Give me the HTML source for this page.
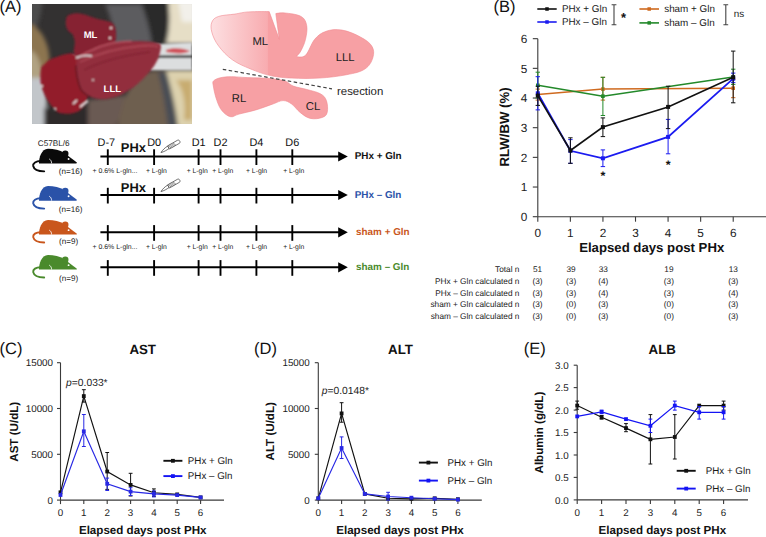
<!DOCTYPE html>
<html><head><meta charset="utf-8"><style>
html,body{margin:0;padding:0;background:#fff;width:766px;height:537px;overflow:hidden}
svg{display:block}
text{font-family:"Liberation Sans",sans-serif;text-rendering:geometricPrecision}
</style></head><body>
<svg width="766" height="537" viewBox="0 0 766 537">
<rect width="766" height="537" fill="#fff"/>
<text x="-0.6" y="11.9" font-size="16.5" text-anchor="start" fill="#111" >(A)</text>
<defs><filter id="bl" x="-10%" y="-10%" width="120%" height="120%"><feGaussianBlur stdDeviation="2.2"/></filter><filter id="bl2"><feGaussianBlur stdDeviation="0.8"/></filter><clipPath id="ph"><rect x="32" y="4" width="160" height="120"/></clipPath><linearGradient id="mlg" gradientUnits="userSpaceOnUse" x1="210" x2="374" y1="0" y2="0"><stop offset="0" stop-color="#fde0e2"/><stop offset="0.35" stop-color="#f8acb0"/><stop offset="0.355" stop-color="#f7a0a4"/><stop offset="1" stop-color="#f7a0a4"/></linearGradient></defs>
<g clip-path="url(#ph)">
<rect x="32" y="4" width="160" height="120" fill="#333131"/>
<g filter="url(#bl)">
<path d="M105 4 L150 4 L156 20 L158 44 L112 46 C115 30 110 15 105 4 Z" fill="#5c5c5e"/>
<path d="M140 0 L168 0 C170 15 172 30 168 44 L152 44 C150 30 146 15 140 0 Z" fill="#2c2c2c"/>
<path d="M168 0 L196 0 L196 44 L166 44 C170 30 170 15 168 0 Z" fill="#e6dec6"/>
<path d="M178 0 L196 0 L196 22 L182 22 Z" fill="#f2f0ea"/>
<path d="M28 0 L42 0 C42 10 40 20 36 28 L28 28 Z" fill="#4c4c4c"/>
<path d="M28 24 C36 24 44 34 48 48 C51 62 50 74 46 80 L28 80 Z" fill="#8c7450"/>
<path d="M28 50 C36 50 42 62 42 80 L28 80 Z" fill="#b0a282"/>
<path d="M28 78 L46 78 C47 92 47 110 46 128 L28 128 Z" fill="#c2c6ca"/>
<path d="M44 108 L100 106 L100 128 L44 128 Z" fill="#2e2c2c"/>
<path d="M118 128 C118 105 128 90 140 72 L166 70 C170 90 176 110 178 128 Z" fill="#6e5e50"/>
<path d="M158 72 L168 72 C172 95 176 112 178 128 L168 128 C166 110 163 92 158 72 Z" fill="#4a4e54"/>
<path d="M166 70 L196 70 L196 128 L178 128 C176 110 172 92 166 70 Z" fill="#ddd2ae"/>
<path d="M176 80 C184 90 186 105 184 120 L192 120 L192 80 Z" fill="#c8ac70"/>
<path d="M88 100 L125 95 C122 110 118 120 116 128 L88 128 Z" fill="#6a5a52"/>
</g>
<g filter="url(#bl2)">
<path d="M72 55 L90 54 L90 61 L72 61 Z" fill="#d0d2d4"/>
<path d="M150 44.5 L192 42.4 L192 70.2 L150 70.2 Z" fill="#dcdedf"/>
<path d="M152 55.5 L192 55.3 L192 58 L152 58 Z" fill="#333"/>
<path d="M166 50 C172 47 184 48 190 51 C186 54 176 54 166 52 Z" fill="#d05058"/>
</g>
<g filter="url(#bl2)">
<path d="M40.9 70.2 C41.5 66 42.5 65.5 44.5 64.2 C48 60 52 58 56.6 56.9 C62 55 66 53.5 71.2 53.3 C74 54 76 55.5 78.4 58.1 C82 64 84.5 68 85.7 72.7 C87.5 80 88.5 86 88.1 92 C87.8 97 87 101 85.7 104.1 C83 108 81 110 78.4 111.4 C74 113 70 114 66.3 113.8 C62 113.5 59 113 56.6 111.4 C52 107 49 103 47 99.3 C44 94 42 89 40.9 84.8 C40.3 80 40.3 75 40.9 70.2 Z" fill="#921c2a"/>
<path d="M66.3 18.2 C67 16 68 15 70 14.5 C73 13.5 76 13.2 78.4 13.3 C82 13.8 85 14.5 88.1 15.7 C92 17 96 18.5 100.2 19.4 C104 20.2 107 20.8 110 21.8 C112.5 23 114 24.5 114.8 26.6 C116 30 116.2 33 116 36.3 C116 38 116 40 115 42 L110 43.6 L93 49.6 L78.4 56.9 C76 56 75 55 73.6 52 C74 48 75 44 74.8 41.2 C74 38 73.5 36 72.4 33.9 C70 32.5 69.5 32 68.8 31.5 C67 29 66 27 65.8 24.2 C65.6 22 65.8 20 66.3 18.2 Z" fill="#862030"/>
<path d="M78.4 56.9 C83 54 88 51.5 93 49.6 C98 47 104 45 110 43.6 C117 42 124 41.5 131.7 41.2 C138 41 145 41.2 151.1 41.7 C154 42 157 42.5 159.6 43.6 C161 45 161.2 46.5 160.8 48.4 C160 53 159 57 157.2 60.5 C155 65 152 69 148.7 72.7 C145 77 141 81 136.6 84.8 C132 88.5 127 91.5 122 94.5 C116 97 110 98.5 105.1 99.3 C100 99.5 95 98.5 90.5 96.9 C86 95 83 92.5 80.9 89.6 C79 85.5 78 81.5 77.2 77.5 C76.5 73 76 69 76 65.4 C76 62 77 59 78.4 56.9 Z" fill="#922e3c"/>
<path d="M78.4 56.9 C83 54 88 51.5 93 49.6 C98 47 104 45 110 43.6 C117 42 124 41.5 131.7 41.2" stroke="#c05868" stroke-width="1.2" fill="none"/>
<path d="M76 65.4 C76 69 76.5 73 77.2 77.5 C78 81.5 79 85.5 80.9 89.6 C83 92.5 86 95 90.5 96.9" stroke="#5e1420" stroke-width="1.4" fill="none"/>
<path d="M80 62 C95 55 115 48 140 46 C150 45 156 46 158 47" stroke="#b04a58" stroke-width="1.3" fill="none"/>
<path d="M84 70 C100 62 120 56 150 52" stroke="#7a1c2a" stroke-width="1" fill="none"/>
<path d="M76 58 C80 56 86 55 92 56" stroke="#e8e8e8" stroke-width="1.4" fill="none"/>
<path d="M73 104 L77 100 M80 107 L88 101" stroke="#f0f0f0" stroke-width="1.6" fill="none"/>
<circle cx="111" cy="28" r="1.2" fill="#f0e0e0"/><circle cx="110" cy="38" r="1.2" fill="#f0e0e0"/><circle cx="42" cy="86" r="1" fill="#f0f0f0"/><circle cx="55" cy="109" r="1" fill="#f0f0f0"/><circle cx="93" cy="80" r="0.9" fill="#f0f0f0"/>
</g>
</g>
<text x="90.5" y="37.5" font-size="9.5" text-anchor="middle" fill="#ffffff" font-weight="bold" >ML</text>
<text x="112.3" y="92" font-size="9.5" text-anchor="middle" fill="#ffffff" font-weight="bold" >LLL</text>
<path d="M211.9 22.1 C213.1 19.2 214.6 17.8 218.7 16.4 C222.8 15.0 229.4 14.9 234.7 14.1 C240.0 13.3 242.2 12.3 248.4 11.9 C254.6 11.5 269.2 11.6 269.2 11.6 L279.3 39.3 L275.8 13.6 C275.8 13.6 280.5 12.5 285.0 13.0 C289.5 13.5 297.1 14.1 301.0 16.4 C304.9 18.7 305.9 21.5 306.7 25.6 C307.5 29.7 306.5 34.8 305.5 39.3 C304.5 43.8 302.6 47.6 301.0 50.7 C299.4 53.8 296.4 56.4 296.4 56.4 C296.4 56.4 302.2 58.4 305.5 55.3 C308.8 52.2 311.0 43.6 314.7 39.3 C318.4 35.0 321.2 33.0 326.1 31.3 C331.0 29.6 335.9 29.1 342.1 30.1 C348.3 31.1 355.1 34.1 360.4 37.0 C365.7 39.9 369.6 42.4 371.8 46.1 C374.1 49.8 374.1 53.4 372.9 57.5 C371.7 61.6 369.6 65.9 364.9 69.0 C360.2 72.1 354.9 73.1 346.7 74.7 C338.5 76.3 329.1 77.5 319.2 78.1 C309.3 78.7 300.4 78.5 291.8 78.1 C283.2 77.7 278.7 77.4 271.3 75.8 C263.9 74.2 257.7 71.9 250.7 69.0 C243.7 66.1 238.2 63.9 232.4 59.8 C226.6 55.7 222.4 51.0 218.7 46.1 C215.0 41.2 213.1 36.7 211.9 32.4 C210.7 28.1 210.7 25.0 211.9 22.1 Z" fill="url(#mlg)" stroke="#f08a90" stroke-width="0.6" stroke-linejoin="round"/>
<path d="M214.3 80.2 C216.7 78.4 221.0 77.3 227.0 76.8 C233.0 76.3 239.8 77.3 247.4 77.6 C255.1 77.9 262.8 77.9 269.5 78.5 C276.2 79.1 280.5 79.6 284.8 81.0 C289.1 82.4 289.3 84.6 293.3 86.1 C297.3 87.6 302.0 88.1 306.9 89.5 C311.8 90.9 316.9 91.8 320.4 93.8 C323.9 95.8 325.2 97.3 326.4 100.6 C327.6 103.9 328.0 109.4 327.2 112.4 C326.4 115.4 325.1 116.4 322.1 117.5 C319.1 118.6 314.3 119.3 310.3 118.4 C306.3 117.5 303.5 115.0 300.1 112.4 C296.7 109.8 294.7 106.1 291.6 104.0 C288.5 101.9 286.5 100.6 283.1 100.6 C279.7 100.6 277.8 102.3 272.9 104.0 C268.0 105.7 262.0 108.1 255.9 109.9 C249.8 111.7 243.6 112.9 239.0 114.1 C234.4 115.3 233.6 117.3 230.5 116.7 C227.4 116.1 224.4 113.6 222.0 110.7 C219.6 107.8 218.4 104.9 216.9 100.6 C215.4 96.3 214.0 90.7 213.5 87.0 C213.0 83.3 211.9 82.0 214.3 80.2 Z" fill="#f7a0a4" stroke="#f08a90" stroke-width="0.6" stroke-linejoin="round"/>
<line x1="222.8" y1="69.3" x2="332" y2="88.8" stroke="#444" stroke-width="1.2" stroke-dasharray="3.5 2.5"/>
<text x="260.3" y="44.8" font-size="11.3" text-anchor="middle" fill="#222" >ML</text>
<text x="345.1" y="61.2" font-size="11.3" text-anchor="middle" fill="#222" >LLL</text>
<text x="239.1" y="102" font-size="11.3" text-anchor="middle" fill="#222" >RL</text>
<text x="313.1" y="110.2" font-size="11.3" text-anchor="middle" fill="#222" >CL</text>
<text x="337" y="95.4" font-size="11.4" text-anchor="start" fill="#222" >resection</text>
<text x="53.7" y="146" font-size="8.2" text-anchor="middle" fill="#222" >C57BL/6</text>
<g transform="translate(39,148.75)" fill="#0a0a0a"><path d="M0 14.65 C-0.2 9 2.5 0 9 0 C15 0 21 1.5 25 4 L37.6 13.6 C38.2 14.1 38 14.65 37 14.65 Z"/><circle cx="26.3" cy="4.9" r="3.2"/><path d="M1.5 12.3 C-3 12.3 -6.3 14.5 -5.8 17.2 C-5 20.8 0 22.6 5.2 22.6" fill="none" stroke="#0a0a0a" stroke-width="1.9" stroke-linecap="round"/><circle cx="29.6" cy="10.25" r="0.95" fill="#fff"/><path d="M10.2 10.2 C11.8 11 12.6 12.6 12.6 14.65" fill="none" stroke="#fff" stroke-width="0.8"/></g>
<text x="82.4" y="173.6" font-size="8.1" text-anchor="end" fill="#222" >(n=16)</text>
<line x1="100.4" y1="156.5" x2="340" y2="156.5" stroke="#000" stroke-width="1.9"/>
<path d="M338.2 151.4 L347.8 156.5 L338.2 161.6 Z" fill="#000"/>
<line x1="107.8" y1="149.3" x2="107.8" y2="165.0" stroke="#000" stroke-width="1.9"/>
<line x1="154.1" y1="149.3" x2="154.1" y2="165.0" stroke="#000" stroke-width="1.9"/>
<line x1="198.6" y1="149.3" x2="198.6" y2="165.0" stroke="#000" stroke-width="1.9"/>
<line x1="220.5" y1="149.3" x2="220.5" y2="165.0" stroke="#000" stroke-width="1.9"/>
<line x1="256.4" y1="149.3" x2="256.4" y2="165.0" stroke="#000" stroke-width="1.9"/>
<line x1="292.3" y1="149.3" x2="292.3" y2="165.0" stroke="#000" stroke-width="1.9"/>
<text x="354.7" y="159.3" font-size="9.9" text-anchor="start" fill="#111" font-weight="bold" >PHx + Gln</text>
<g transform="translate(39,186.0)" fill="#2a52a8"><path d="M0 14.65 C-0.2 9 2.5 0 9 0 C15 0 21 1.5 25 4 L37.6 13.6 C38.2 14.1 38 14.65 37 14.65 Z"/><circle cx="26.3" cy="4.9" r="3.2"/><path d="M1.5 12.3 C-3 12.3 -6.3 14.5 -5.8 17.2 C-5 20.8 0 22.6 5.2 22.6" fill="none" stroke="#2a52a8" stroke-width="1.9" stroke-linecap="round"/><circle cx="29.6" cy="10.25" r="0.95" fill="#fff"/><path d="M10.2 10.2 C11.8 11 12.6 12.6 12.6 14.65" fill="none" stroke="#fff" stroke-width="0.8"/></g>
<text x="82.4" y="211.9" font-size="8.1" text-anchor="end" fill="#222" >(n=16)</text>
<line x1="100.4" y1="195.0" x2="340" y2="195.0" stroke="#000" stroke-width="1.9"/>
<path d="M338.2 189.9 L347.8 195.0 L338.2 200.1 Z" fill="#000"/>
<line x1="107.8" y1="187.8" x2="107.8" y2="203.5" stroke="#000" stroke-width="1.9"/>
<line x1="154.1" y1="187.8" x2="154.1" y2="203.5" stroke="#000" stroke-width="1.9"/>
<line x1="198.6" y1="187.8" x2="198.6" y2="203.5" stroke="#000" stroke-width="1.9"/>
<line x1="220.5" y1="187.8" x2="220.5" y2="203.5" stroke="#000" stroke-width="1.9"/>
<line x1="256.4" y1="187.8" x2="256.4" y2="203.5" stroke="#000" stroke-width="1.9"/>
<line x1="292.3" y1="187.8" x2="292.3" y2="203.5" stroke="#000" stroke-width="1.9"/>
<text x="354.7" y="197.8" font-size="9.9" text-anchor="start" fill="#2a52a8" font-weight="bold" >PHx – Gln</text>
<g transform="translate(39,219.9)" fill="#c9561c"><path d="M0 14.65 C-0.2 9 2.5 0 9 0 C15 0 21 1.5 25 4 L37.6 13.6 C38.2 14.1 38 14.65 37 14.65 Z"/><circle cx="26.3" cy="4.9" r="3.2"/><path d="M1.5 12.3 C-3 12.3 -6.3 14.5 -5.8 17.2 C-5 20.8 0 22.6 5.2 22.6" fill="none" stroke="#c9561c" stroke-width="1.9" stroke-linecap="round"/><circle cx="29.6" cy="10.25" r="0.95" fill="#fff"/><path d="M10.2 10.2 C11.8 11 12.6 12.6 12.6 14.65" fill="none" stroke="#fff" stroke-width="0.8"/></g>
<text x="78.1" y="244.4" font-size="8.1" text-anchor="end" fill="#222" >(n=9)</text>
<line x1="100.4" y1="232.3" x2="340" y2="232.3" stroke="#000" stroke-width="1.9"/>
<path d="M338.2 227.20000000000002 L347.8 232.3 L338.2 237.4 Z" fill="#000"/>
<line x1="107.8" y1="225.10000000000002" x2="107.8" y2="240.8" stroke="#000" stroke-width="1.9"/>
<line x1="154.1" y1="225.10000000000002" x2="154.1" y2="240.8" stroke="#000" stroke-width="1.9"/>
<line x1="198.6" y1="225.10000000000002" x2="198.6" y2="240.8" stroke="#000" stroke-width="1.9"/>
<line x1="220.5" y1="225.10000000000002" x2="220.5" y2="240.8" stroke="#000" stroke-width="1.9"/>
<line x1="256.4" y1="225.10000000000002" x2="256.4" y2="240.8" stroke="#000" stroke-width="1.9"/>
<line x1="292.3" y1="225.10000000000002" x2="292.3" y2="240.8" stroke="#000" stroke-width="1.9"/>
<text x="356.09999999999997" y="235.10000000000002" font-size="9.9" text-anchor="start" fill="#c9561c" font-weight="bold" >sham + Gln</text>
<g transform="translate(39,254.9)" fill="#4a8a2c"><path d="M0 14.65 C-0.2 9 2.5 0 9 0 C15 0 21 1.5 25 4 L37.6 13.6 C38.2 14.1 38 14.65 37 14.65 Z"/><circle cx="26.3" cy="4.9" r="3.2"/><path d="M1.5 12.3 C-3 12.3 -6.3 14.5 -5.8 17.2 C-5 20.8 0 22.6 5.2 22.6" fill="none" stroke="#4a8a2c" stroke-width="1.9" stroke-linecap="round"/><circle cx="29.6" cy="10.25" r="0.95" fill="#fff"/><path d="M10.2 10.2 C11.8 11 12.6 12.6 12.6 14.65" fill="none" stroke="#fff" stroke-width="0.8"/></g>
<text x="78.1" y="280.9" font-size="8.1" text-anchor="end" fill="#222" >(n=9)</text>
<line x1="100.4" y1="267.3" x2="340" y2="267.3" stroke="#000" stroke-width="1.9"/>
<path d="M338.2 262.2 L347.8 267.3 L338.2 272.40000000000003 Z" fill="#000"/>
<line x1="107.8" y1="260.1" x2="107.8" y2="275.8" stroke="#000" stroke-width="1.9"/>
<line x1="154.1" y1="260.1" x2="154.1" y2="275.8" stroke="#000" stroke-width="1.9"/>
<line x1="198.6" y1="260.1" x2="198.6" y2="275.8" stroke="#000" stroke-width="1.9"/>
<line x1="220.5" y1="260.1" x2="220.5" y2="275.8" stroke="#000" stroke-width="1.9"/>
<line x1="256.4" y1="260.1" x2="256.4" y2="275.8" stroke="#000" stroke-width="1.9"/>
<line x1="292.3" y1="260.1" x2="292.3" y2="275.8" stroke="#000" stroke-width="1.9"/>
<text x="356.09999999999997" y="270.1" font-size="9.9" text-anchor="start" fill="#4a8a2c" font-weight="bold" >sham – Gln</text>
<text x="106.3" y="145.9" font-size="10.9" text-anchor="middle" fill="#111" >D-7</text>
<text x="154.1" y="145.9" font-size="10.9" text-anchor="middle" fill="#111" >D0</text>
<text x="198.6" y="145.9" font-size="10.9" text-anchor="middle" fill="#111" >D1</text>
<text x="220.5" y="145.9" font-size="10.9" text-anchor="middle" fill="#111" >D2</text>
<text x="256.4" y="145.9" font-size="10.9" text-anchor="middle" fill="#111" >D4</text>
<text x="292.3" y="145.9" font-size="10.9" text-anchor="middle" fill="#111" >D6</text>
<text x="133.4" y="152.2" font-size="12.9" text-anchor="middle" fill="#111" font-weight="bold" >PHx</text>
<text x="133.4" y="191.7" font-size="12.9" text-anchor="middle" fill="#111" font-weight="bold" >PHx</text>
<g transform="translate(160.8,152.2) rotate(-29.7)" fill="#fff" stroke="#3a3a3a" stroke-width="0.65" stroke-linejoin="round"><path d="M0 0.4 C2.5 -1.0 6 -1.9 9 -1.9 L9.2 0.9 C6 1.2 3 1.2 0 0.4 Z"/><path d="M9 -2.1 L20.5 -2.1 C22.3 -2.1 22.6 1.5 20.5 1.5 L9 1.5 Z"/><path d="M9.6 -2 L11 1.4 M11 -2 L12.4 1.4 M12.4 -2 L13.8 1.4 M13.8 -2 L15.2 1.4 M15.2 -2 L16.6 1.4" stroke-width="0.5"/></g>
<g transform="translate(160.8,191.2) rotate(-29.7)" fill="#fff" stroke="#3a3a3a" stroke-width="0.65" stroke-linejoin="round"><path d="M0 0.4 C2.5 -1.0 6 -1.9 9 -1.9 L9.2 0.9 C6 1.2 3 1.2 0 0.4 Z"/><path d="M9 -2.1 L20.5 -2.1 C22.3 -2.1 22.6 1.5 20.5 1.5 L9 1.5 Z"/><path d="M9.6 -2 L11 1.4 M11 -2 L12.4 1.4 M12.4 -2 L13.8 1.4 M13.8 -2 L15.2 1.4 M15.2 -2 L16.6 1.4" stroke-width="0.5"/></g>
<text x="92.5" y="173.0" font-size="6.95" text-anchor="start" fill="#222" >+ 0.6% L-gln...</text>
<text x="156.4" y="173.0" font-size="6.8" text-anchor="middle" fill="#222" >+ L-gln</text>
<text x="197.2" y="173.0" font-size="6.8" text-anchor="middle" fill="#222" >+ L-gln</text>
<text x="222.7" y="173.0" font-size="6.8" text-anchor="middle" fill="#222" >+ L-gln</text>
<text x="256.5" y="173.0" font-size="6.8" text-anchor="middle" fill="#222" >+ L-gln</text>
<text x="293.7" y="173.0" font-size="6.8" text-anchor="middle" fill="#222" >+ L-gln</text>
<text x="92.5" y="248.8" font-size="6.95" text-anchor="start" fill="#222" >+ 0.6% L-gln...</text>
<text x="156.4" y="248.8" font-size="6.8" text-anchor="middle" fill="#222" >+ L-gln</text>
<text x="197.2" y="248.8" font-size="6.8" text-anchor="middle" fill="#222" >+ L-gln</text>
<text x="222.7" y="248.8" font-size="6.8" text-anchor="middle" fill="#222" >+ L-gln</text>
<text x="256.5" y="248.8" font-size="6.8" text-anchor="middle" fill="#222" >+ L-gln</text>
<text x="293.7" y="248.8" font-size="6.8" text-anchor="middle" fill="#222" >+ L-gln</text>
<text x="493.4" y="12" font-size="16.5" text-anchor="start" fill="#111" >(B)</text>
<line x1="537.8" y1="38.67999999999998" x2="537.8" y2="216.7" stroke="#3a3a3a" stroke-width="1.1"/>
<line x1="537.8" y1="216.7" x2="766" y2="216.7" stroke="#3a3a3a" stroke-width="1.1"/>
<line x1="532.8" y1="216.7" x2="537.8" y2="216.7" stroke="#3a3a3a" stroke-width="1.1"/>
<text x="527.3" y="220.89999999999998" font-size="11.8" text-anchor="end" fill="#222" >0</text>
<line x1="532.8" y1="187.02999999999997" x2="537.8" y2="187.02999999999997" stroke="#3a3a3a" stroke-width="1.1"/>
<text x="527.3" y="191.22999999999996" font-size="11.8" text-anchor="end" fill="#222" >1</text>
<line x1="532.8" y1="157.35999999999999" x2="537.8" y2="157.35999999999999" stroke="#3a3a3a" stroke-width="1.1"/>
<text x="527.3" y="161.55999999999997" font-size="11.8" text-anchor="end" fill="#222" >2</text>
<line x1="532.8" y1="127.68999999999998" x2="537.8" y2="127.68999999999998" stroke="#3a3a3a" stroke-width="1.1"/>
<text x="527.3" y="131.89" font-size="11.8" text-anchor="end" fill="#222" >3</text>
<line x1="532.8" y1="98.01999999999998" x2="537.8" y2="98.01999999999998" stroke="#3a3a3a" stroke-width="1.1"/>
<text x="527.3" y="102.21999999999998" font-size="11.8" text-anchor="end" fill="#222" >4</text>
<line x1="532.8" y1="68.34999999999997" x2="537.8" y2="68.34999999999997" stroke="#3a3a3a" stroke-width="1.1"/>
<text x="527.3" y="72.54999999999997" font-size="11.8" text-anchor="end" fill="#222" >5</text>
<line x1="532.8" y1="38.67999999999998" x2="537.8" y2="38.67999999999998" stroke="#3a3a3a" stroke-width="1.1"/>
<text x="527.3" y="42.87999999999998" font-size="11.8" text-anchor="end" fill="#222" >6</text>
<line x1="537.8" y1="216.7" x2="537.8" y2="221.7" stroke="#3a3a3a" stroke-width="1.1"/>
<text x="537.8" y="236.79999999999998" font-size="11.8" text-anchor="middle" fill="#222" >0</text>
<line x1="570.37" y1="216.7" x2="570.37" y2="221.7" stroke="#3a3a3a" stroke-width="1.1"/>
<text x="570.37" y="236.79999999999998" font-size="11.8" text-anchor="middle" fill="#222" >1</text>
<line x1="602.9399999999999" y1="216.7" x2="602.9399999999999" y2="221.7" stroke="#3a3a3a" stroke-width="1.1"/>
<text x="602.9399999999999" y="236.79999999999998" font-size="11.8" text-anchor="middle" fill="#222" >2</text>
<line x1="635.51" y1="216.7" x2="635.51" y2="221.7" stroke="#3a3a3a" stroke-width="1.1"/>
<text x="635.51" y="236.79999999999998" font-size="11.8" text-anchor="middle" fill="#222" >3</text>
<line x1="668.0799999999999" y1="216.7" x2="668.0799999999999" y2="221.7" stroke="#3a3a3a" stroke-width="1.1"/>
<text x="668.0799999999999" y="236.79999999999998" font-size="11.8" text-anchor="middle" fill="#222" >4</text>
<line x1="700.65" y1="216.7" x2="700.65" y2="221.7" stroke="#3a3a3a" stroke-width="1.1"/>
<text x="700.65" y="236.79999999999998" font-size="11.8" text-anchor="middle" fill="#222" >5</text>
<line x1="733.22" y1="216.7" x2="733.22" y2="221.7" stroke="#3a3a3a" stroke-width="1.1"/>
<text x="733.22" y="236.79999999999998" font-size="11.8" text-anchor="middle" fill="#222" >6</text>
<text x="651.7" y="252.4" font-size="13.2" text-anchor="middle" fill="#111" font-weight="bold" >Elapsed days post PHx</text>
<text transform="translate(508.5,127) rotate(-90)" font-size="13.2" font-weight="bold" text-anchor="middle" fill="#111">RLW/BW (%)</text>
<path d="M537.8 94.5 L602.9 89.1 L733.2 88.2" fill="none" stroke="#cf6a1f" stroke-width="1.5" stroke-linejoin="miter"/>
<line x1="537.8" y1="100.1" x2="537.8" y2="89.1" stroke="#cf6a1f" stroke-width="1.0"/>
<line x1="535.6" y1="100.1" x2="540.0" y2="100.1" stroke="#cf6a1f" stroke-width="1.0"/>
<line x1="535.6" y1="89.1" x2="540.0" y2="89.1" stroke="#cf6a1f" stroke-width="1.0"/>
<rect x="536.0" y="92.7" width="3.6" height="3.6" fill="#cf6a1f"/>
<line x1="602.9" y1="100.1" x2="602.9" y2="77.3" stroke="#cf6a1f" stroke-width="1.0"/>
<line x1="600.7" y1="100.1" x2="605.1" y2="100.1" stroke="#cf6a1f" stroke-width="1.0"/>
<line x1="600.7" y1="77.3" x2="605.1" y2="77.3" stroke="#cf6a1f" stroke-width="1.0"/>
<rect x="601.1" y="87.3" width="3.6" height="3.6" fill="#cf6a1f"/>
<line x1="733.2" y1="97.7" x2="733.2" y2="79.3" stroke="#cf6a1f" stroke-width="1.0"/>
<line x1="731.0" y1="97.7" x2="735.4" y2="97.7" stroke="#cf6a1f" stroke-width="1.0"/>
<line x1="731.0" y1="79.3" x2="735.4" y2="79.3" stroke="#cf6a1f" stroke-width="1.0"/>
<rect x="731.4" y="86.4" width="3.6" height="3.6" fill="#cf6a1f"/>
<path d="M537.8 85.3 L602.9 96.2 L733.2 77.0" fill="none" stroke="#23892a" stroke-width="1.5" stroke-linejoin="miter"/>
<line x1="537.8" y1="98.0" x2="537.8" y2="72.2" stroke="#23892a" stroke-width="1.0"/>
<line x1="535.6" y1="98.0" x2="540.0" y2="98.0" stroke="#23892a" stroke-width="1.0"/>
<line x1="535.6" y1="72.2" x2="540.0" y2="72.2" stroke="#23892a" stroke-width="1.0"/>
<rect x="536.0" y="83.5" width="3.6" height="3.6" fill="#23892a"/>
<line x1="602.9" y1="115.5" x2="602.9" y2="77.3" stroke="#23892a" stroke-width="1.0"/>
<line x1="600.7" y1="115.5" x2="605.1" y2="115.5" stroke="#23892a" stroke-width="1.0"/>
<line x1="600.7" y1="77.3" x2="605.1" y2="77.3" stroke="#23892a" stroke-width="1.0"/>
<rect x="601.1" y="94.4" width="3.6" height="3.6" fill="#23892a"/>
<line x1="733.2" y1="84.4" x2="733.2" y2="69.2" stroke="#23892a" stroke-width="1.0"/>
<line x1="731.0" y1="84.4" x2="735.4" y2="84.4" stroke="#23892a" stroke-width="1.0"/>
<line x1="731.0" y1="69.2" x2="735.4" y2="69.2" stroke="#23892a" stroke-width="1.0"/>
<rect x="731.4" y="75.2" width="3.6" height="3.6" fill="#23892a"/>
<path d="M537.8 93.3 L570.4 150.8 L602.9 158.3 L668.1 136.9 L733.2 78.7" fill="none" stroke="#1b1bf0" stroke-width="1.8" stroke-linejoin="miter"/>
<line x1="537.8" y1="109.9" x2="537.8" y2="76.7" stroke="#1b1bf0" stroke-width="1.0"/>
<line x1="535.6" y1="109.9" x2="540.0" y2="109.9" stroke="#1b1bf0" stroke-width="1.0"/>
<line x1="535.6" y1="76.7" x2="540.0" y2="76.7" stroke="#1b1bf0" stroke-width="1.0"/>
<rect x="535.8" y="91.3" width="4" height="4" fill="#1b1bf0"/>
<line x1="570.4" y1="163.3" x2="570.4" y2="139.6" stroke="#1b1bf0" stroke-width="1.0"/>
<line x1="568.2" y1="163.3" x2="572.6" y2="163.3" stroke="#1b1bf0" stroke-width="1.0"/>
<line x1="568.2" y1="139.6" x2="572.6" y2="139.6" stroke="#1b1bf0" stroke-width="1.0"/>
<rect x="568.4" y="148.8" width="4" height="4" fill="#1b1bf0"/>
<line x1="602.9" y1="166.6" x2="602.9" y2="149.9" stroke="#1b1bf0" stroke-width="1.0"/>
<line x1="600.7" y1="166.6" x2="605.1" y2="166.6" stroke="#1b1bf0" stroke-width="1.0"/>
<line x1="600.7" y1="149.9" x2="605.1" y2="149.9" stroke="#1b1bf0" stroke-width="1.0"/>
<rect x="600.9" y="156.3" width="4" height="4" fill="#1b1bf0"/>
<line x1="668.1" y1="153.8" x2="668.1" y2="119.4" stroke="#1b1bf0" stroke-width="1.0"/>
<line x1="665.9" y1="153.8" x2="670.3" y2="153.8" stroke="#1b1bf0" stroke-width="1.0"/>
<line x1="665.9" y1="119.4" x2="670.3" y2="119.4" stroke="#1b1bf0" stroke-width="1.0"/>
<rect x="666.1" y="134.9" width="4" height="4" fill="#1b1bf0"/>
<line x1="733.2" y1="82.6" x2="733.2" y2="73.1" stroke="#1b1bf0" stroke-width="1.0"/>
<line x1="731.0" y1="82.6" x2="735.4" y2="82.6" stroke="#1b1bf0" stroke-width="1.0"/>
<line x1="731.0" y1="73.1" x2="735.4" y2="73.1" stroke="#1b1bf0" stroke-width="1.0"/>
<rect x="731.2" y="76.7" width="4" height="4" fill="#1b1bf0"/>
<path d="M537.8 95.6 L570.4 150.5 L602.9 127.1 L668.1 106.9 L733.2 77.3" fill="none" stroke="#111111" stroke-width="1.6" stroke-linejoin="miter"/>
<line x1="537.8" y1="105.4" x2="537.8" y2="86.2" stroke="#111111" stroke-width="1.0"/>
<line x1="535.6" y1="105.4" x2="540.0" y2="105.4" stroke="#111111" stroke-width="1.0"/>
<line x1="535.6" y1="86.2" x2="540.0" y2="86.2" stroke="#111111" stroke-width="1.0"/>
<rect x="535.8" y="93.6" width="4" height="4" fill="#111111"/>
<line x1="570.4" y1="163.3" x2="570.4" y2="137.8" stroke="#111111" stroke-width="1.0"/>
<line x1="568.2" y1="163.3" x2="572.6" y2="163.3" stroke="#111111" stroke-width="1.0"/>
<line x1="568.2" y1="137.8" x2="572.6" y2="137.8" stroke="#111111" stroke-width="1.0"/>
<rect x="568.4" y="148.5" width="4" height="4" fill="#111111"/>
<line x1="602.9" y1="136.6" x2="602.9" y2="117.9" stroke="#111111" stroke-width="1.0"/>
<line x1="600.7" y1="136.6" x2="605.1" y2="136.6" stroke="#111111" stroke-width="1.0"/>
<line x1="600.7" y1="117.9" x2="605.1" y2="117.9" stroke="#111111" stroke-width="1.0"/>
<rect x="600.9" y="125.1" width="4" height="4" fill="#111111"/>
<line x1="668.1" y1="128.6" x2="668.1" y2="86.2" stroke="#111111" stroke-width="1.0"/>
<line x1="665.9" y1="128.6" x2="670.3" y2="128.6" stroke="#111111" stroke-width="1.0"/>
<line x1="665.9" y1="86.2" x2="670.3" y2="86.2" stroke="#111111" stroke-width="1.0"/>
<rect x="666.1" y="104.9" width="4" height="4" fill="#111111"/>
<line x1="733.2" y1="102.8" x2="733.2" y2="51.1" stroke="#111111" stroke-width="1.0"/>
<line x1="731.0" y1="102.8" x2="735.4" y2="102.8" stroke="#111111" stroke-width="1.0"/>
<line x1="731.0" y1="51.1" x2="735.4" y2="51.1" stroke="#111111" stroke-width="1.0"/>
<rect x="731.2" y="75.3" width="4" height="4" fill="#111111"/>
<text x="602.9399999999999" y="179.8" font-size="12.5" text-anchor="middle" fill="#111" font-weight="bold" >*</text>
<text x="668.0799999999999" y="169.3" font-size="12.5" text-anchor="middle" fill="#111" font-weight="bold" >*</text>
<line x1="537.3" y1="9" x2="556.7" y2="9" stroke="#111111" stroke-width="1.6"/>
<rect x="545.25" y="7.25" width="3.5" height="3.5" fill="#111111"/>
<text x="561.9" y="12.1" font-size="9.9" text-anchor="start" fill="#1a1a1a" >PHx + Gln</text>
<line x1="537.3" y1="22" x2="556.7" y2="22" stroke="#1b1bf0" stroke-width="1.6"/>
<rect x="545.25" y="20.25" width="3.5" height="3.5" fill="#1b1bf0"/>
<text x="561.9" y="25.1" font-size="9.9" text-anchor="start" fill="#1a1a1a" >PHx – Gln</text>
<line x1="639.4" y1="9" x2="659" y2="9" stroke="#cf6a1f" stroke-width="1.6"/>
<rect x="647.45" y="7.25" width="3.5" height="3.5" fill="#cf6a1f"/>
<text x="664.2" y="12.1" font-size="9.9" text-anchor="start" fill="#1a1a1a" >sham + Gln</text>
<line x1="639.4" y1="22.9" x2="659" y2="22.9" stroke="#23892a" stroke-width="1.6"/>
<rect x="647.45" y="21.15" width="3.5" height="3.5" fill="#23892a"/>
<text x="664.2" y="26.0" font-size="9.9" text-anchor="start" fill="#1a1a1a" >sham – Gln</text>
<path d="M611.6 4.8 H616.4 M614 4.8 V24.7 M611.6 24.7 H616.4" stroke="#444" stroke-width="1.1" fill="none"/>
<path d="M723.4 4.8 H728.1999999999999 M725.8 4.8 V24.7 M723.4 24.7 H728.1999999999999" stroke="#444" stroke-width="1.1" fill="none"/>
<text x="623.5" y="22.3" font-size="13" text-anchor="middle" fill="#111" font-weight="bold" >*</text>
<text x="733.8" y="17.2" font-size="9.9" text-anchor="start" fill="#222" >ns</text>
<text x="519.4" y="271.9" font-size="8.27" text-anchor="end" fill="#222" >Total n</text>
<text x="537.5" y="271.9" font-size="8.27" text-anchor="middle" fill="#222" >51</text>
<text x="571.1" y="271.9" font-size="8.27" text-anchor="middle" fill="#222" >39</text>
<text x="603.3" y="271.9" font-size="8.27" text-anchor="middle" fill="#222" >33</text>
<text x="668.9" y="271.9" font-size="8.27" text-anchor="middle" fill="#222" >19</text>
<text x="733.3" y="271.9" font-size="8.27" text-anchor="middle" fill="#222" >13</text>
<text x="519.4" y="283.75" font-size="8.27" text-anchor="end" fill="#222" >PHx + Gln calculated n</text>
<text x="537.5" y="283.75" font-size="8.27" text-anchor="middle" fill="#222" >(3)</text>
<text x="571.1" y="283.75" font-size="8.27" text-anchor="middle" fill="#222" >(3)</text>
<text x="603.3" y="283.75" font-size="8.27" text-anchor="middle" fill="#222" >(4)</text>
<text x="668.9" y="283.75" font-size="8.27" text-anchor="middle" fill="#222" >(3)</text>
<text x="733.3" y="283.75" font-size="8.27" text-anchor="middle" fill="#222" >(3)</text>
<text x="519.4" y="295.59999999999997" font-size="8.27" text-anchor="end" fill="#222" >PHx – Gln calculated n</text>
<text x="537.5" y="295.59999999999997" font-size="8.27" text-anchor="middle" fill="#222" >(3)</text>
<text x="571.1" y="295.59999999999997" font-size="8.27" text-anchor="middle" fill="#222" >(3)</text>
<text x="603.3" y="295.59999999999997" font-size="8.27" text-anchor="middle" fill="#222" >(4)</text>
<text x="668.9" y="295.59999999999997" font-size="8.27" text-anchor="middle" fill="#222" >(3)</text>
<text x="733.3" y="295.59999999999997" font-size="8.27" text-anchor="middle" fill="#222" >(4)</text>
<text x="519.4" y="307.45" font-size="8.27" text-anchor="end" fill="#222" >sham + Gln calculated n</text>
<text x="537.5" y="307.45" font-size="8.27" text-anchor="middle" fill="#222" >(3)</text>
<text x="571.1" y="307.45" font-size="8.27" text-anchor="middle" fill="#222" >(0)</text>
<text x="603.3" y="307.45" font-size="8.27" text-anchor="middle" fill="#222" >(3)</text>
<text x="668.9" y="307.45" font-size="8.27" text-anchor="middle" fill="#222" >(0)</text>
<text x="733.3" y="307.45" font-size="8.27" text-anchor="middle" fill="#222" >(3)</text>
<text x="519.4" y="319.29999999999995" font-size="8.27" text-anchor="end" fill="#222" >sham – Gln calculated n</text>
<text x="537.5" y="319.29999999999995" font-size="8.27" text-anchor="middle" fill="#222" >(3)</text>
<text x="571.1" y="319.29999999999995" font-size="8.27" text-anchor="middle" fill="#222" >(0)</text>
<text x="603.3" y="319.29999999999995" font-size="8.27" text-anchor="middle" fill="#222" >(3)</text>
<text x="668.9" y="319.29999999999995" font-size="8.27" text-anchor="middle" fill="#222" >(0)</text>
<text x="733.3" y="319.29999999999995" font-size="8.27" text-anchor="middle" fill="#222" >(3)</text>
<text x="-0.4" y="353.6" font-size="16.5" text-anchor="start" fill="#111" >(C)</text>
<line x1="60.5" y1="362.70000000000005" x2="60.5" y2="500.1" stroke="#3a3a3a" stroke-width="1.1"/>
<line x1="60.5" y1="500.1" x2="224" y2="500.1" stroke="#3a3a3a" stroke-width="1.1"/>
<line x1="57.0" y1="500.1" x2="60.5" y2="500.1" stroke="#3a3a3a" stroke-width="1.1"/>
<text x="53.0" y="503.70000000000005" font-size="9.8" text-anchor="end" fill="#1a1a1a" >0</text>
<line x1="57.0" y1="454.3" x2="60.5" y2="454.3" stroke="#3a3a3a" stroke-width="1.1"/>
<text x="53.0" y="457.90000000000003" font-size="9.8" text-anchor="end" fill="#1a1a1a" >5000</text>
<line x1="57.0" y1="408.5" x2="60.5" y2="408.5" stroke="#3a3a3a" stroke-width="1.1"/>
<text x="53.0" y="412.1" font-size="9.8" text-anchor="end" fill="#1a1a1a" >10000</text>
<line x1="57.0" y1="362.7" x2="60.5" y2="362.7" stroke="#3a3a3a" stroke-width="1.1"/>
<text x="53.0" y="366.30000000000007" font-size="9.8" text-anchor="end" fill="#1a1a1a" >15000</text>
<line x1="60.5" y1="500.1" x2="60.5" y2="504.1" stroke="#3a3a3a" stroke-width="1.1"/>
<text x="60.5" y="515.9" font-size="9.8" text-anchor="middle" fill="#222" >0</text>
<line x1="83.8" y1="500.1" x2="83.8" y2="504.1" stroke="#3a3a3a" stroke-width="1.1"/>
<text x="83.85" y="515.9" font-size="9.8" text-anchor="middle" fill="#222" >1</text>
<line x1="107.2" y1="500.1" x2="107.2" y2="504.1" stroke="#3a3a3a" stroke-width="1.1"/>
<text x="107.2" y="515.9" font-size="9.8" text-anchor="middle" fill="#222" >2</text>
<line x1="130.6" y1="500.1" x2="130.6" y2="504.1" stroke="#3a3a3a" stroke-width="1.1"/>
<text x="130.55" y="515.9" font-size="9.8" text-anchor="middle" fill="#222" >3</text>
<line x1="153.9" y1="500.1" x2="153.9" y2="504.1" stroke="#3a3a3a" stroke-width="1.1"/>
<text x="153.9" y="515.9" font-size="9.8" text-anchor="middle" fill="#222" >4</text>
<line x1="177.2" y1="500.1" x2="177.2" y2="504.1" stroke="#3a3a3a" stroke-width="1.1"/>
<text x="177.25" y="515.9" font-size="9.8" text-anchor="middle" fill="#222" >5</text>
<line x1="200.6" y1="500.1" x2="200.6" y2="504.1" stroke="#3a3a3a" stroke-width="1.1"/>
<text x="200.60000000000002" y="515.9" font-size="9.8" text-anchor="middle" fill="#222" >6</text>
<text x="142.7" y="354.3" font-size="13.3" text-anchor="middle" fill="#111" font-weight="bold" >AST</text>
<text x="142.7" y="534" font-size="11.6" text-anchor="middle" fill="#111" font-weight="bold" >Elapsed days post PHx</text>
<text transform="translate(18.2,431.8) rotate(-90)" font-size="11.6" font-weight="bold" text-anchor="middle" fill="#111">AST (U/dL)</text>
<path d="M60.5 492.3 L83.8 396.1 L107.2 471.5 L130.6 484.9 L153.9 492.8 L177.2 494.4 L200.6 497.4" fill="none" stroke="#111111" stroke-width="1.15" stroke-linejoin="miter"/>
<rect x="58.6" y="490.4" width="3.8" height="3.8" fill="#111111"/>
<line x1="83.8" y1="402.1" x2="83.8" y2="389.7" stroke="#111111" stroke-width="1.0"/>
<line x1="81.9" y1="402.1" x2="85.8" y2="402.1" stroke="#111111" stroke-width="1.0"/>
<line x1="81.9" y1="389.7" x2="85.8" y2="389.7" stroke="#111111" stroke-width="1.0"/>
<rect x="81.9" y="394.2" width="3.8" height="3.8" fill="#111111"/>
<line x1="107.2" y1="489.4" x2="107.2" y2="452.5" stroke="#111111" stroke-width="1.0"/>
<line x1="105.3" y1="489.4" x2="109.1" y2="489.4" stroke="#111111" stroke-width="1.0"/>
<line x1="105.3" y1="452.5" x2="109.1" y2="452.5" stroke="#111111" stroke-width="1.0"/>
<rect x="105.3" y="469.6" width="3.8" height="3.8" fill="#111111"/>
<line x1="130.6" y1="496.0" x2="130.6" y2="473.3" stroke="#111111" stroke-width="1.0"/>
<line x1="128.7" y1="496.0" x2="132.5" y2="496.0" stroke="#111111" stroke-width="1.0"/>
<line x1="128.7" y1="473.3" x2="132.5" y2="473.3" stroke="#111111" stroke-width="1.0"/>
<rect x="128.7" y="483.0" width="3.8" height="3.8" fill="#111111"/>
<line x1="153.9" y1="496.4" x2="153.9" y2="488.9" stroke="#111111" stroke-width="1.0"/>
<line x1="152.0" y1="496.4" x2="155.8" y2="496.4" stroke="#111111" stroke-width="1.0"/>
<line x1="152.0" y1="488.9" x2="155.8" y2="488.9" stroke="#111111" stroke-width="1.0"/>
<rect x="152.0" y="490.9" width="3.8" height="3.8" fill="#111111"/>
<rect x="175.3" y="492.5" width="3.8" height="3.8" fill="#111111"/>
<rect x="198.7" y="495.5" width="3.8" height="3.8" fill="#111111"/>
<path d="M60.5 495.0 L83.8 431.3 L107.2 483.8 L130.6 491.6 L153.9 493.9 L177.2 495.1 L200.6 497.4" fill="none" stroke="#2828e4" stroke-width="1.15" stroke-linejoin="miter"/>
<rect x="58.6" y="493.1" width="3.8" height="3.8" fill="#2828e4"/>
<line x1="83.8" y1="446.5" x2="83.8" y2="414.5" stroke="#2828e4" stroke-width="1.0"/>
<line x1="81.9" y1="446.5" x2="85.8" y2="446.5" stroke="#2828e4" stroke-width="1.0"/>
<line x1="81.9" y1="414.5" x2="85.8" y2="414.5" stroke="#2828e4" stroke-width="1.0"/>
<rect x="81.9" y="429.4" width="3.8" height="3.8" fill="#2828e4"/>
<line x1="107.2" y1="490.5" x2="107.2" y2="478.1" stroke="#2828e4" stroke-width="1.0"/>
<line x1="105.3" y1="490.5" x2="109.1" y2="490.5" stroke="#2828e4" stroke-width="1.0"/>
<line x1="105.3" y1="478.1" x2="109.1" y2="478.1" stroke="#2828e4" stroke-width="1.0"/>
<rect x="105.3" y="481.9" width="3.8" height="3.8" fill="#2828e4"/>
<line x1="130.6" y1="495.5" x2="130.6" y2="487.7" stroke="#2828e4" stroke-width="1.0"/>
<line x1="128.7" y1="495.5" x2="132.5" y2="495.5" stroke="#2828e4" stroke-width="1.0"/>
<line x1="128.7" y1="487.7" x2="132.5" y2="487.7" stroke="#2828e4" stroke-width="1.0"/>
<rect x="128.7" y="489.7" width="3.8" height="3.8" fill="#2828e4"/>
<line x1="153.9" y1="496.9" x2="153.9" y2="490.9" stroke="#2828e4" stroke-width="1.0"/>
<line x1="152.0" y1="496.9" x2="155.8" y2="496.9" stroke="#2828e4" stroke-width="1.0"/>
<line x1="152.0" y1="490.9" x2="155.8" y2="490.9" stroke="#2828e4" stroke-width="1.0"/>
<rect x="152.0" y="492.0" width="3.8" height="3.8" fill="#2828e4"/>
<rect x="175.3" y="493.2" width="3.8" height="3.8" fill="#2828e4"/>
<rect x="198.7" y="495.5" width="3.8" height="3.8" fill="#2828e4"/>
<line x1="163.4" y1="460.8" x2="182.4" y2="460.8" stroke="#111111" stroke-width="1.9"/>
<rect x="171.0" y="458.90000000000003" width="3.8" height="3.8" fill="#111111"/>
<text x="187.8" y="463.90000000000003" font-size="9.8" text-anchor="start" fill="#1a1a1a" >PHx + Gln</text>
<line x1="163.4" y1="476.1" x2="182.4" y2="476.1" stroke="#1414f4" stroke-width="1.9"/>
<rect x="171.0" y="474.20000000000005" width="3.8" height="3.8" fill="#1414f4"/>
<text x="187.8" y="479.20000000000005" font-size="9.8" text-anchor="start" fill="#1a1a1a" >PHx – Gln</text>
<text x="66.1" y="385.8" font-size="10.3" fill="#1a1a1a"><tspan font-style="italic">p</tspan>=0.033*</text>
<text x="254" y="353.6" font-size="16.5" text-anchor="start" fill="#111" >(D)</text>
<line x1="318.3" y1="362.70000000000005" x2="318.3" y2="500.1" stroke="#3a3a3a" stroke-width="1.1"/>
<line x1="318.3" y1="500.1" x2="481.8" y2="500.1" stroke="#3a3a3a" stroke-width="1.1"/>
<line x1="314.8" y1="500.1" x2="318.3" y2="500.1" stroke="#3a3a3a" stroke-width="1.1"/>
<text x="309.7" y="503.70000000000005" font-size="9.8" text-anchor="end" fill="#1a1a1a" >0</text>
<line x1="314.8" y1="454.3" x2="318.3" y2="454.3" stroke="#3a3a3a" stroke-width="1.1"/>
<text x="309.7" y="457.90000000000003" font-size="9.8" text-anchor="end" fill="#1a1a1a" >5000</text>
<line x1="314.8" y1="408.5" x2="318.3" y2="408.5" stroke="#3a3a3a" stroke-width="1.1"/>
<text x="309.7" y="412.1" font-size="9.8" text-anchor="end" fill="#1a1a1a" >10000</text>
<line x1="314.8" y1="362.7" x2="318.3" y2="362.7" stroke="#3a3a3a" stroke-width="1.1"/>
<text x="309.7" y="366.30000000000007" font-size="9.8" text-anchor="end" fill="#1a1a1a" >15000</text>
<line x1="318.3" y1="500.1" x2="318.3" y2="504.1" stroke="#3a3a3a" stroke-width="1.1"/>
<text x="318.3" y="515.9" font-size="9.8" text-anchor="middle" fill="#222" >0</text>
<line x1="341.6" y1="500.1" x2="341.6" y2="504.1" stroke="#3a3a3a" stroke-width="1.1"/>
<text x="341.57" y="515.9" font-size="9.8" text-anchor="middle" fill="#222" >1</text>
<line x1="364.8" y1="500.1" x2="364.8" y2="504.1" stroke="#3a3a3a" stroke-width="1.1"/>
<text x="364.84000000000003" y="515.9" font-size="9.8" text-anchor="middle" fill="#222" >2</text>
<line x1="388.1" y1="500.1" x2="388.1" y2="504.1" stroke="#3a3a3a" stroke-width="1.1"/>
<text x="388.11" y="515.9" font-size="9.8" text-anchor="middle" fill="#222" >3</text>
<line x1="411.4" y1="500.1" x2="411.4" y2="504.1" stroke="#3a3a3a" stroke-width="1.1"/>
<text x="411.38" y="515.9" font-size="9.8" text-anchor="middle" fill="#222" >4</text>
<line x1="434.6" y1="500.1" x2="434.6" y2="504.1" stroke="#3a3a3a" stroke-width="1.1"/>
<text x="434.65" y="515.9" font-size="9.8" text-anchor="middle" fill="#222" >5</text>
<line x1="457.9" y1="500.1" x2="457.9" y2="504.1" stroke="#3a3a3a" stroke-width="1.1"/>
<text x="457.92" y="515.9" font-size="9.8" text-anchor="middle" fill="#222" >6</text>
<text x="400.5" y="354.3" font-size="13.3" text-anchor="middle" fill="#111" font-weight="bold" >ALT</text>
<text x="400" y="534" font-size="11.6" text-anchor="middle" fill="#111" font-weight="bold" >Elapsed days post PHx</text>
<text transform="translate(274.0,431.3) rotate(-90)" font-size="11.6" font-weight="bold" text-anchor="middle" fill="#111">ALT (U/dL)</text>
<path d="M318.3 498.3 L341.6 413.4 L364.8 493.9 L388.1 498.3 L411.4 498.8 L434.6 498.3 L457.9 499.2" fill="none" stroke="#111111" stroke-width="1.15" stroke-linejoin="miter"/>
<rect x="316.4" y="496.4" width="3.8" height="3.8" fill="#111111"/>
<line x1="341.6" y1="422.2" x2="341.6" y2="402.7" stroke="#111111" stroke-width="1.0"/>
<line x1="339.7" y1="422.2" x2="343.5" y2="422.2" stroke="#111111" stroke-width="1.0"/>
<line x1="339.7" y1="402.7" x2="343.5" y2="402.7" stroke="#111111" stroke-width="1.0"/>
<rect x="339.7" y="411.5" width="3.8" height="3.8" fill="#111111"/>
<rect x="362.9" y="492.0" width="3.8" height="3.8" fill="#111111"/>
<rect x="386.2" y="496.4" width="3.8" height="3.8" fill="#111111"/>
<rect x="409.5" y="496.9" width="3.8" height="3.8" fill="#111111"/>
<rect x="432.8" y="496.4" width="3.8" height="3.8" fill="#111111"/>
<rect x="456.0" y="497.3" width="3.8" height="3.8" fill="#111111"/>
<path d="M318.3 498.3 L341.6 448.0 L364.8 493.9 L388.1 496.5 L411.4 497.7 L434.6 498.7 L457.9 499.6" fill="none" stroke="#2828e4" stroke-width="1.15" stroke-linejoin="miter"/>
<rect x="316.4" y="496.4" width="3.8" height="3.8" fill="#2828e4"/>
<line x1="341.6" y1="458.5" x2="341.6" y2="436.9" stroke="#2828e4" stroke-width="1.0"/>
<line x1="339.7" y1="458.5" x2="343.5" y2="458.5" stroke="#2828e4" stroke-width="1.0"/>
<line x1="339.7" y1="436.9" x2="343.5" y2="436.9" stroke="#2828e4" stroke-width="1.0"/>
<rect x="339.7" y="446.1" width="3.8" height="3.8" fill="#2828e4"/>
<rect x="362.9" y="492.0" width="3.8" height="3.8" fill="#2828e4"/>
<line x1="388.1" y1="500.1" x2="388.1" y2="492.3" stroke="#2828e4" stroke-width="1.0"/>
<line x1="386.2" y1="500.1" x2="390.0" y2="500.1" stroke="#2828e4" stroke-width="1.0"/>
<line x1="386.2" y1="492.3" x2="390.0" y2="492.3" stroke="#2828e4" stroke-width="1.0"/>
<rect x="386.2" y="494.6" width="3.8" height="3.8" fill="#2828e4"/>
<rect x="409.5" y="495.8" width="3.8" height="3.8" fill="#2828e4"/>
<rect x="432.8" y="496.8" width="3.8" height="3.8" fill="#2828e4"/>
<rect x="456.0" y="497.7" width="3.8" height="3.8" fill="#2828e4"/>
<line x1="418.9" y1="462.6" x2="437.9" y2="462.6" stroke="#111111" stroke-width="1.9"/>
<rect x="426.5" y="460.70000000000005" width="3.8" height="3.8" fill="#111111"/>
<text x="447.5" y="465.70000000000005" font-size="9.8" text-anchor="start" fill="#1a1a1a" >PHx + Gln</text>
<line x1="418.9" y1="480.6" x2="437.9" y2="480.6" stroke="#1414f4" stroke-width="1.9"/>
<rect x="426.5" y="478.70000000000005" width="3.8" height="3.8" fill="#1414f4"/>
<text x="447.5" y="483.70000000000005" font-size="9.8" text-anchor="start" fill="#1a1a1a" >PHx – Gln</text>
<text x="321.7" y="394.3" font-size="10.3" fill="#1a1a1a"><tspan font-style="italic">p</tspan>=0.0148*</text>
<text x="523.8" y="353.6" font-size="16.5" text-anchor="start" fill="#111" >(E)</text>
<line x1="577.2" y1="365.2" x2="577.2" y2="499.9" stroke="#3a3a3a" stroke-width="1.1"/>
<line x1="577.2" y1="499.9" x2="748" y2="499.9" stroke="#3a3a3a" stroke-width="1.1"/>
<line x1="573.7" y1="499.9" x2="577.2" y2="499.9" stroke="#3a3a3a" stroke-width="1.1"/>
<text x="568.6" y="503.5" font-size="9.8" text-anchor="end" fill="#1a1a1a" >0.0</text>
<line x1="573.7" y1="477.4" x2="577.2" y2="477.4" stroke="#3a3a3a" stroke-width="1.1"/>
<text x="568.6" y="481.05" font-size="9.8" text-anchor="end" fill="#1a1a1a" >0.5</text>
<line x1="573.7" y1="455.0" x2="577.2" y2="455.0" stroke="#3a3a3a" stroke-width="1.1"/>
<text x="568.6" y="458.6" font-size="9.8" text-anchor="end" fill="#1a1a1a" >1.0</text>
<line x1="573.7" y1="432.5" x2="577.2" y2="432.5" stroke="#3a3a3a" stroke-width="1.1"/>
<text x="568.6" y="436.15" font-size="9.8" text-anchor="end" fill="#1a1a1a" >1.5</text>
<line x1="573.7" y1="410.1" x2="577.2" y2="410.1" stroke="#3a3a3a" stroke-width="1.1"/>
<text x="568.6" y="413.7" font-size="9.8" text-anchor="end" fill="#1a1a1a" >2.0</text>
<line x1="573.7" y1="387.6" x2="577.2" y2="387.6" stroke="#3a3a3a" stroke-width="1.1"/>
<text x="568.6" y="391.25" font-size="9.8" text-anchor="end" fill="#1a1a1a" >2.5</text>
<line x1="573.7" y1="365.2" x2="577.2" y2="365.2" stroke="#3a3a3a" stroke-width="1.1"/>
<text x="568.6" y="368.8" font-size="9.8" text-anchor="end" fill="#1a1a1a" >3.0</text>
<line x1="577.2" y1="499.9" x2="577.2" y2="503.9" stroke="#3a3a3a" stroke-width="1.1"/>
<text x="577.2" y="515.6999999999999" font-size="9.8" text-anchor="middle" fill="#222" >0</text>
<line x1="601.6" y1="499.9" x2="601.6" y2="503.9" stroke="#3a3a3a" stroke-width="1.1"/>
<text x="601.6" y="515.6999999999999" font-size="9.8" text-anchor="middle" fill="#222" >1</text>
<line x1="626.0" y1="499.9" x2="626.0" y2="503.9" stroke="#3a3a3a" stroke-width="1.1"/>
<text x="626.0" y="515.6999999999999" font-size="9.8" text-anchor="middle" fill="#222" >2</text>
<line x1="650.4" y1="499.9" x2="650.4" y2="503.9" stroke="#3a3a3a" stroke-width="1.1"/>
<text x="650.4000000000001" y="515.6999999999999" font-size="9.8" text-anchor="middle" fill="#222" >3</text>
<line x1="674.8" y1="499.9" x2="674.8" y2="503.9" stroke="#3a3a3a" stroke-width="1.1"/>
<text x="674.8000000000001" y="515.6999999999999" font-size="9.8" text-anchor="middle" fill="#222" >4</text>
<line x1="699.2" y1="499.9" x2="699.2" y2="503.9" stroke="#3a3a3a" stroke-width="1.1"/>
<text x="699.2" y="515.6999999999999" font-size="9.8" text-anchor="middle" fill="#222" >5</text>
<line x1="723.6" y1="499.9" x2="723.6" y2="503.9" stroke="#3a3a3a" stroke-width="1.1"/>
<text x="723.6" y="515.6999999999999" font-size="9.8" text-anchor="middle" fill="#222" >6</text>
<text x="662.2" y="354.3" font-size="13.3" text-anchor="middle" fill="#111" font-weight="bold" >ALB</text>
<text x="662.3" y="534" font-size="11.6" text-anchor="middle" fill="#111" font-weight="bold" >Elapsed days post PHx</text>
<text transform="translate(543.0,432.6) rotate(-90)" font-size="11.6" font-weight="bold" text-anchor="middle" fill="#111">Albumin (g/dL)</text>
<path d="M577.2 405.6 L601.6 417.3 L626.0 428.1 L650.4 439.3 L674.8 437.0 L699.2 405.6 L723.6 405.6" fill="none" stroke="#111111" stroke-width="1.15" stroke-linejoin="miter"/>
<line x1="577.2" y1="409.2" x2="577.2" y2="401.1" stroke="#111111" stroke-width="1.0"/>
<line x1="575.3" y1="409.2" x2="579.1" y2="409.2" stroke="#111111" stroke-width="1.0"/>
<line x1="575.3" y1="401.1" x2="579.1" y2="401.1" stroke="#111111" stroke-width="1.0"/>
<rect x="575.3" y="403.7" width="3.8" height="3.8" fill="#111111"/>
<line x1="601.6" y1="419.1" x2="601.6" y2="415.5" stroke="#111111" stroke-width="1.0"/>
<line x1="599.7" y1="419.1" x2="603.5" y2="419.1" stroke="#111111" stroke-width="1.0"/>
<line x1="599.7" y1="415.5" x2="603.5" y2="415.5" stroke="#111111" stroke-width="1.0"/>
<rect x="599.7" y="415.4" width="3.8" height="3.8" fill="#111111"/>
<line x1="626.0" y1="431.7" x2="626.0" y2="423.6" stroke="#111111" stroke-width="1.0"/>
<line x1="624.1" y1="431.7" x2="627.9" y2="431.7" stroke="#111111" stroke-width="1.0"/>
<line x1="624.1" y1="423.6" x2="627.9" y2="423.6" stroke="#111111" stroke-width="1.0"/>
<rect x="624.1" y="426.2" width="3.8" height="3.8" fill="#111111"/>
<line x1="650.4" y1="464.0" x2="650.4" y2="414.6" stroke="#111111" stroke-width="1.0"/>
<line x1="648.5" y1="464.0" x2="652.3" y2="464.0" stroke="#111111" stroke-width="1.0"/>
<line x1="648.5" y1="414.6" x2="652.3" y2="414.6" stroke="#111111" stroke-width="1.0"/>
<rect x="648.5" y="437.4" width="3.8" height="3.8" fill="#111111"/>
<line x1="674.8" y1="459.0" x2="674.8" y2="414.6" stroke="#111111" stroke-width="1.0"/>
<line x1="672.9" y1="459.0" x2="676.7" y2="459.0" stroke="#111111" stroke-width="1.0"/>
<line x1="672.9" y1="414.6" x2="676.7" y2="414.6" stroke="#111111" stroke-width="1.0"/>
<rect x="672.9" y="435.1" width="3.8" height="3.8" fill="#111111"/>
<rect x="697.3" y="403.7" width="3.8" height="3.8" fill="#111111"/>
<line x1="723.6" y1="410.1" x2="723.6" y2="401.1" stroke="#111111" stroke-width="1.0"/>
<line x1="721.7" y1="410.1" x2="725.5" y2="410.1" stroke="#111111" stroke-width="1.0"/>
<line x1="721.7" y1="401.1" x2="725.5" y2="401.1" stroke="#111111" stroke-width="1.0"/>
<rect x="721.7" y="403.7" width="3.8" height="3.8" fill="#111111"/>
<path d="M577.2 416.4 L601.6 411.9 L626.0 419.1 L650.4 425.8 L674.8 405.6 L699.2 412.3 L723.6 412.3" fill="none" stroke="#1414f4" stroke-width="1.15" stroke-linejoin="miter"/>
<rect x="575.3" y="414.5" width="3.8" height="3.8" fill="#1414f4"/>
<line x1="601.6" y1="413.7" x2="601.6" y2="410.1" stroke="#1414f4" stroke-width="1.0"/>
<line x1="599.7" y1="413.7" x2="603.5" y2="413.7" stroke="#1414f4" stroke-width="1.0"/>
<line x1="599.7" y1="410.1" x2="603.5" y2="410.1" stroke="#1414f4" stroke-width="1.0"/>
<rect x="599.7" y="410.0" width="3.8" height="3.8" fill="#1414f4"/>
<rect x="624.1" y="417.2" width="3.8" height="3.8" fill="#1414f4"/>
<line x1="650.4" y1="432.5" x2="650.4" y2="419.1" stroke="#1414f4" stroke-width="1.0"/>
<line x1="648.5" y1="432.5" x2="652.3" y2="432.5" stroke="#1414f4" stroke-width="1.0"/>
<line x1="648.5" y1="419.1" x2="652.3" y2="419.1" stroke="#1414f4" stroke-width="1.0"/>
<rect x="648.5" y="423.9" width="3.8" height="3.8" fill="#1414f4"/>
<line x1="674.8" y1="410.1" x2="674.8" y2="401.1" stroke="#1414f4" stroke-width="1.0"/>
<line x1="672.9" y1="410.1" x2="676.7" y2="410.1" stroke="#1414f4" stroke-width="1.0"/>
<line x1="672.9" y1="401.1" x2="676.7" y2="401.1" stroke="#1414f4" stroke-width="1.0"/>
<rect x="672.9" y="403.7" width="3.8" height="3.8" fill="#1414f4"/>
<line x1="699.2" y1="419.1" x2="699.2" y2="406.5" stroke="#1414f4" stroke-width="1.0"/>
<line x1="697.3" y1="419.1" x2="701.1" y2="419.1" stroke="#1414f4" stroke-width="1.0"/>
<line x1="697.3" y1="406.5" x2="701.1" y2="406.5" stroke="#1414f4" stroke-width="1.0"/>
<rect x="697.3" y="410.4" width="3.8" height="3.8" fill="#1414f4"/>
<line x1="723.6" y1="419.1" x2="723.6" y2="406.5" stroke="#1414f4" stroke-width="1.0"/>
<line x1="721.7" y1="419.1" x2="725.5" y2="419.1" stroke="#1414f4" stroke-width="1.0"/>
<line x1="721.7" y1="406.5" x2="725.5" y2="406.5" stroke="#1414f4" stroke-width="1.0"/>
<rect x="721.7" y="410.4" width="3.8" height="3.8" fill="#1414f4"/>
<line x1="676.7" y1="470.8" x2="695.7" y2="470.8" stroke="#111111" stroke-width="1.9"/>
<rect x="684.3000000000001" y="468.90000000000003" width="3.8" height="3.8" fill="#111111"/>
<text x="705.7" y="473.90000000000003" font-size="9.8" text-anchor="start" fill="#1a1a1a" >PHx + Gln</text>
<line x1="676.7" y1="488.6" x2="695.7" y2="488.6" stroke="#1414f4" stroke-width="1.9"/>
<rect x="684.3000000000001" y="486.70000000000005" width="3.8" height="3.8" fill="#1414f4"/>
<text x="705.7" y="491.70000000000005" font-size="9.8" text-anchor="start" fill="#1a1a1a" >PHx – Gln</text>
</svg>
</body></html>
